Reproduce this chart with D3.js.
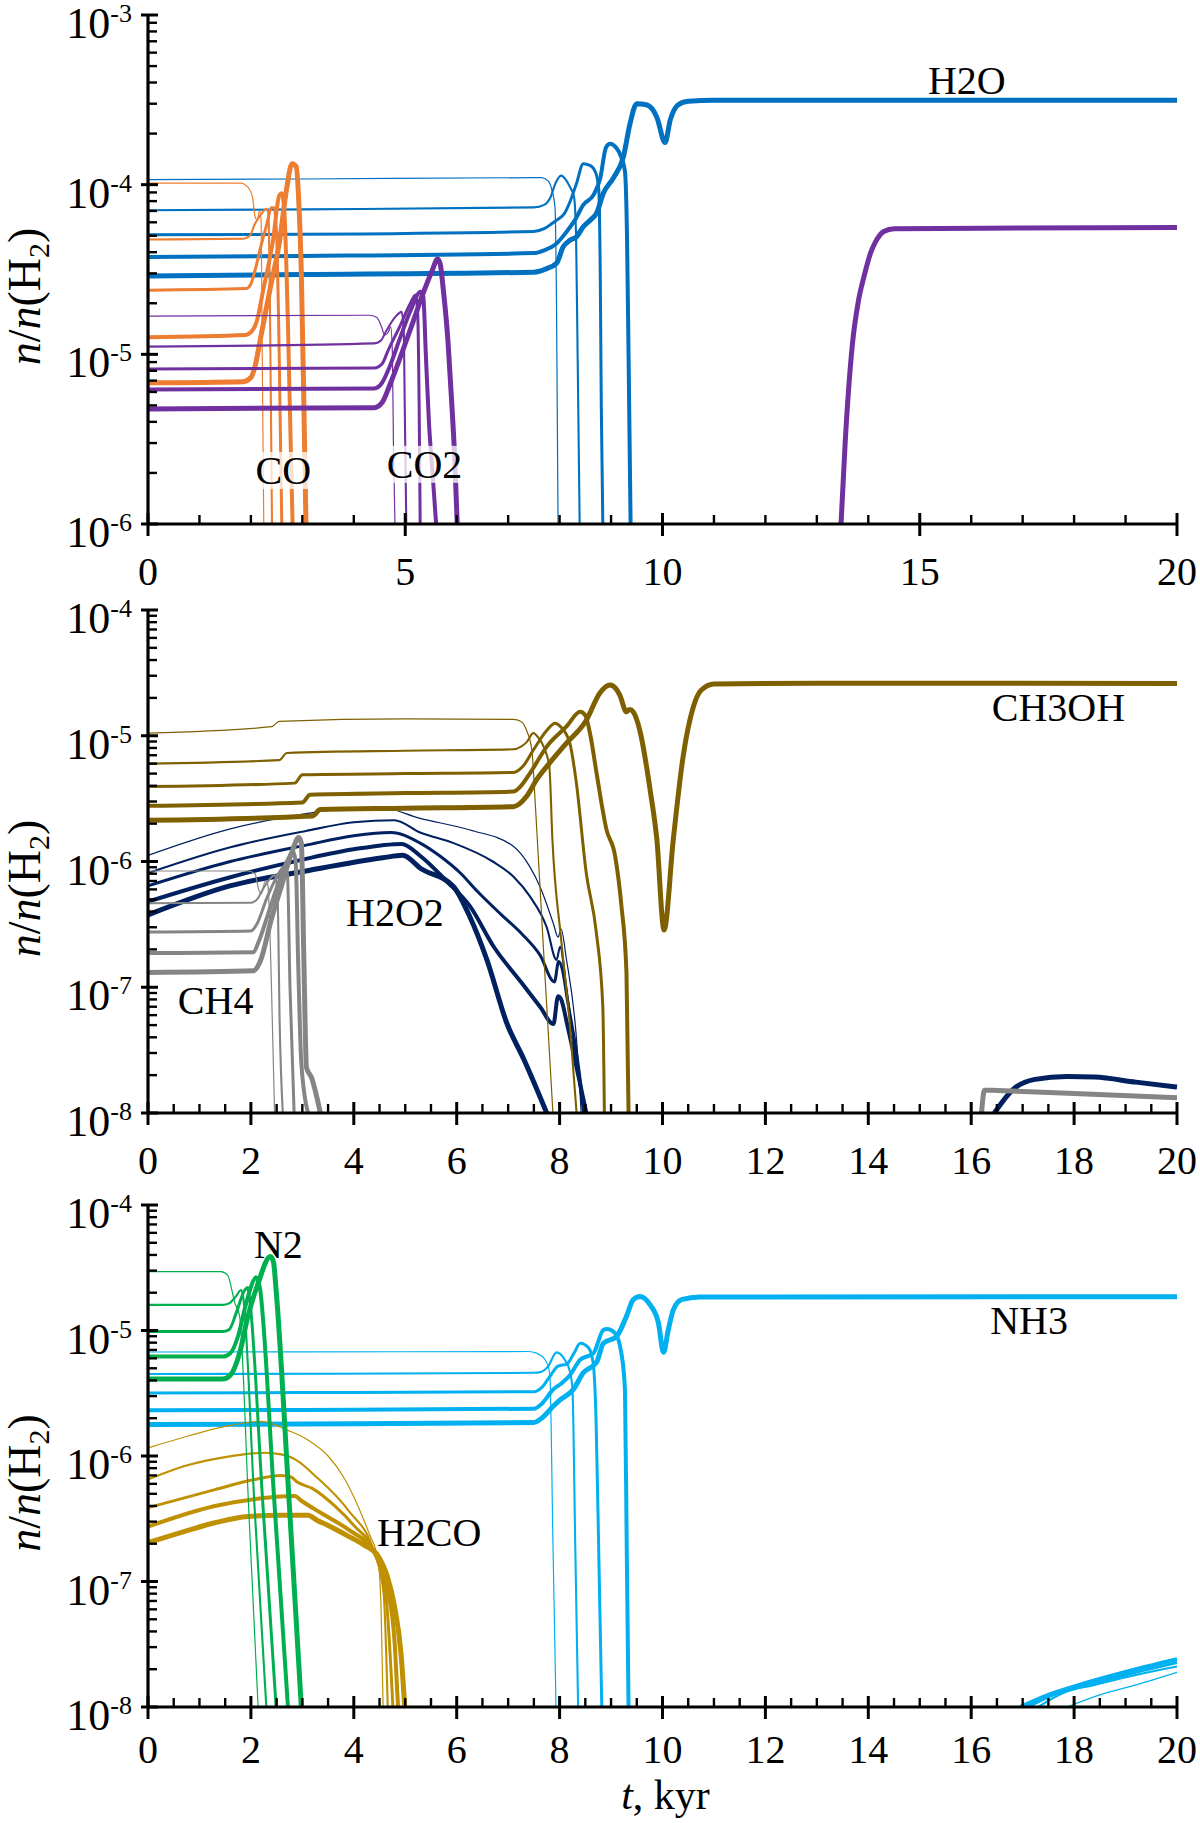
<!DOCTYPE html>
<html>
<head>
<meta charset="utf-8">
<script src="https://cdn.jsdelivr.net/npm/d3@7"></script>
<style>
  body { margin: 0; background: #fff; }
  text { font-family: "Liberation Serif", "Times New Roman", serif; fill: #000; }
</style>
</head>
<body>
<svg id="chart" width="1200" height="1823" font-family="Liberation Serif, Times New Roman, serif"></svg>
<script>
// ---- data: [t (kyr), n/n(H2)], null = line leaves the plot and comes back ----

// panel 1
const h2o = [
  [[0,1.07e-4],[3,1.08e-4],[7.5,1.1e-4],[7.65,1.1e-4],[7.78,1.05e-4],[7.85,9.3e-5],[7.91,7.4e-5],[7.94,2e-5],[7.97,1e-6]],
  [[0,7.06e-5],[3,7.15e-5],[7.5,7.35e-5],[7.7,7.6e-5],[7.82,8.4e-5],[7.92,1.02e-4],[8.03,1.13e-4],[8.12,1.07e-4],[8.2,9.7e-5],[8.28,8.5e-5],[8.32,5e-5],[8.35,1e-5],[8.39,1e-6]],
  [[0,5.07e-5],[3,5.1e-5],[7.5,5.3e-5],[7.7,5.5e-5],[7.85,5.9e-5],[7.95,6.2e-5],[8.1,6.8e-5],[8.2,7.9e-5],[8.33,1.02e-4],[8.46,1.33e-4],[8.59,1.3e-4],[8.7,1.18e-4],[8.76,9.5e-5],[8.79,3e-5],[8.81,5e-6],[8.84,1e-6]],
  [[0,3.75e-5],[3,3.8e-5],[7.5,3.95e-5],[7.7,4.1e-5],[7.94,4.5e-5],[8.14,5.3e-5],[8.3,6.2e-5],[8.46,7.6e-5],[8.66,8.7e-5],[8.79,1.09e-4],[8.9,1.65e-4],[8.98,1.74e-4],[9.1,1.65e-4],[9.2,1.45e-4],[9.27,1.2e-4],[9.31,5e-5],[9.34,1e-5],[9.38,1e-6]],
  [[0,2.9e-5],[3,2.95e-5],[7.5,3.05e-5],[7.75,3.2e-5],[7.94,3.44e-5],[8.07,4.3e-5],[8.2,4.7e-5],[8.33,4.93e-5],[8.46,5.65e-5],[8.6,6.2e-5],[8.72,6.8e-5],[8.85,8.9e-5],[9.05,1.1e-4],[9.24,1.46e-4],[9.37,2.3e-4],[9.5,3.0e-4],[9.7,2.95e-4],[9.89,2.5e-4],[10.05,1.77e-4],[10.15,2.4e-4],[10.3,2.95e-4],[10.5,3.1e-4],[11,3.14e-4],[20,3.14e-4]]
];
const co = [
  [[0,1.02e-4],[1.8,1.02e-4],[1.95,9.6e-5],[2.03,8.5e-5],[2.08,6.5e-5],[2.12,6.2e-5],[2.17,7e-5],[2.2,6e-5],[2.22,1e-5],[2.25,1e-6]],
  [[0,4.75e-5],[1.85,4.8e-5],[1.98,5e-5],[2.07,5.8e-5],[2.2,6.7e-5],[2.3,7.2e-5],[2.34,6.8e-5],[2.37,2e-5],[2.41,1e-6]],
  [[0,2.39e-5],[1.9,2.44e-5],[2.0,2.6e-5],[2.1,3.3e-5],[2.2,4.4e-5],[2.3,5.7e-5],[2.4,7.3e-5],[2.45,7.3e-5],[2.5,5e-5],[2.55,1e-5],[2.6,1e-6]],
  [[0,1.26e-5],[1.9,1.3e-5],[2.0,1.35e-5],[2.11,1.55e-5],[2.24,2.4e-5],[2.43,4.7e-5],[2.55,8.6e-5],[2.6,8.9e-5],[2.65,7e-5],[2.72,1.5e-5],[2.81,1e-6]],
  [[0,6.8e-6],[1.85,6.9e-6],[2.0,7.3e-6],[2.08,8.5e-6],[2.18,1.21e-5],[2.37,2.4e-5],[2.56,4.7e-5],[2.69,9.3e-5],[2.8,1.33e-4],[2.88,1.28e-4],[2.93,8e-5],[2.98,3e-5],[3.03,5e-6],[3.07,1e-6]]
];
const co2 = [
  [[0,1.68e-5],[4.3,1.7e-5],[4.45,1.65e-5],[4.54,1.45e-5],[4.6,1.3e-5],[4.67,1.35e-5],[4.72,1.45e-5],[4.75,1e-5],[4.77,3e-6],[4.8,1e-6]],
  [[0,1.11e-5],[4.4,1.16e-5],[4.52,1.2e-5],[4.64,1.39e-5],[4.8,1.65e-5],[4.93,1.78e-5],[4.97,1.4e-5],[4.99,5e-6],[5.02,1e-6]],
  [[0,8.2e-6],[4.4,8.3e-6],[4.55,8.8e-6],[4.67,1.06e-5],[4.89,1.45e-5],[5.1,2.0e-5],[5.2,2.24e-5],[5.24,1.8e-5],[5.27,5e-6],[5.29,1e-6]],
  [[0,6.2e-6],[4.4,6.3e-6],[4.55,6.8e-6],[4.7,8.5e-6],[4.9,1.25e-5],[5.1,1.8e-5],[5.3,2.34e-5],[5.35,2.2e-5],[5.4,1e-5],[5.46,4e-6],[5.53,2e-6],[5.6,1e-6]],
  [[0,4.77e-6],[4.4,4.85e-6],[4.55,5.2e-6],[4.7,6.6e-6],[4.95,1.05e-5],[5.15,1.55e-5],[5.35,2.3e-5],[5.52,3.1e-5],[5.63,3.65e-5],[5.68,3.4e-5],[5.74,2.4e-5],[5.83,1.2e-5],[5.9,5.4e-6],[5.96,2.5e-6],[6.01,1e-6],
   null,
   [13.47,1e-6],[13.55,3e-6],[13.69,1.14e-5],[13.8,2e-5],[13.92,2.9e-5],[14.05,4e-5],[14.14,4.6e-5],[14.3,5.3e-5],[14.5,5.5e-5],[17,5.55e-5],[20,5.6e-5]]
];

// panel 2
const ch3oh = [
  [[0,1.05e-5],[2.4,1.18e-5],[2.55,1.3e-5],[5,1.36e-5],[7.1,1.35e-5],[7.25,1.3e-5],[7.36,1.1e-5],[7.46,7.7e-6],[7.53,2.75e-6],[7.7,1.6e-7],[7.87,1e-8]],
  [[0,6e-6],[2.55,6.4e-6],[2.7,7.3e-6],[5,7.6e-6],[7.1,7.8e-6],[7.25,8.2e-6],[7.36,8.9e-6],[7.49,1.05e-5],[7.6,9.5e-6],[7.7,8e-6],[7.8,5.7e-6],[7.86,1.5e-6],[8.03,2.4e-7],[8.2,5e-8],[8.33,1e-8]],
  [[0,3.94e-6],[2.85,4.2e-6],[3.0,4.9e-6],[5,5.0e-6],[7.1,5.1e-6],[7.3,5.8e-6],[7.49,7.7e-6],[7.75,1.1e-5],[7.91,1.26e-5],[8.02,1.18e-5],[8.2,8.7e-6],[8.32,4.4e-6],[8.52,8e-7],[8.71,2.8e-7],[8.84,7e-8],[8.87,1e-8]],
  [[0,2.77e-6],[3.0,2.95e-6],[3.15,3.4e-6],[5,3.5e-6],[7.1,3.6e-6],[7.25,4e-6],[7.42,5e-6],[7.75,8.2e-6],[8.13,1.18e-5],[8.4,1.55e-5],[8.5,1.45e-5],[8.6,1e-5],[8.72,5e-6],[8.91,1.8e-6],[9.08,1.1e-6],[9.2,4.5e-7],[9.3,1.3e-7],[9.34,1e-8]],
  [[0,2.13e-6],[3.2,2.3e-6],[3.35,2.59e-6],[5,2.65e-6],[7.1,2.73e-6],[7.36,3.3e-6],[7.55,4.45e-6],[7.81,6.1e-6],[8.13,8.7e-6],[8.52,1.33e-5],[8.78,2.18e-5],[8.98,2.53e-5],[9.1,2.35e-5],[9.17,2.1e-5],[9.3,1.55e-5],[9.36,1.62e-5],[9.43,1.55e-5],[9.56,1.1e-5],[9.76,3.7e-6],[9.89,1.5e-6],[10.03,2.85e-7],[10.21,1.5e-6],[10.4,6.8e-6],[10.6,1.7e-5],[10.75,2.3e-5],[11,2.58e-5],[13,2.62e-5],[20,2.6e-5]]
];
const h2o2 = [
  [[0,1.12e-6],[1.6,1.82e-6],[3.07,2.4e-6],[3.8,2.65e-6],[4.5,2.7e-6],[5.29,2.2e-6],[6.26,1.78e-6],[7.1,1.32e-6],[7.42,9.1e-7],[7.62,6.3e-7],[7.88,3.2e-7],[7.97,2.5e-7],[8.03,2.9e-7],[8.13,1.7e-7],[8.33,3.8e-8],[8.42,1e-8]],
  [[0,8.1e-7],[1.6,1.3e-6],[3.07,1.75e-6],[4,2.05e-6],[4.79,2.13e-6],[5.29,1.7e-6],[5.94,1.4e-6],[6.7,1.0e-6],[7.1,7.6e-7],[7.42,5.3e-7],[7.75,3.0e-7],[7.94,1.65e-7],[8.01,2.1e-7],[8.13,1.0e-7],[8.33,2.5e-8],[8.46,1e-8]],
  [[0,6.4e-7],[1.6,1.0e-6],[3.07,1.35e-6],[4,1.6e-6],[4.72,1.7e-6],[5.29,1.4e-6],[5.68,1.1e-6],[6.07,8.1e-7],[6.4,5.8e-7],[6.86,3.8e-7],[7.25,2.7e-7],[7.62,1.8e-7],[7.9,1.1e-7],[7.98,1.6e-7],[8.05,1.4e-7],[8.15,8e-8],[8.33,3e-8],[8.48,1e-8]],
  [[0,4.8e-7],[1.6,7.5e-7],[3.07,1.05e-6],[4,1.25e-6],[4.93,1.38e-6],[5.3,1.1e-6],[5.8,7e-7],[6.26,4.4e-7],[6.72,2.1e-7],[7.25,1.1e-7],[7.62,7e-8],[7.88,5.1e-8],[7.97,8.5e-8],[8.03,8e-8],[8.15,5e-8],[8.33,2.3e-8],[8.52,1e-8]],
  [[0,3.76e-7],[1.59,6.4e-7],[3.07,8.4e-7],[4.56,1.07e-6],[4.95,1.12e-6],[5.3,8.8e-7],[5.94,6.3e-7],[6.26,3.6e-7],[6.59,1.64e-7],[6.98,5.1e-8],[7.3,2.7e-8],[7.75,1e-8],
   null,
   [16.45,1e-8],[16.82,1.55e-8],[17.24,1.85e-8],[17.86,1.95e-8],[18.4,1.93e-8],[19.2,1.76e-8],[20,1.61e-8]]
];
const ch4 = [
  [[0,8.4e-7],[1.95,8.4e-7],[2.08,8e-7],[2.15,6e-7],[2.2,5.5e-7],[2.28,7e-7],[2.33,6.5e-7],[2.4,1e-7],[2.46,1e-8]],
  [[0,4.65e-7],[2.0,4.7e-7],[2.12,5e-7],[2.25,6.2e-7],[2.4,7.5e-7],[2.47,7.8e-7],[2.52,5e-7],[2.56,5e-8],[2.62,1e-8]],
  [[0,2.75e-7],[2.0,2.8e-7],[2.12,3.2e-7],[2.3,5e-7],[2.5,7.5e-7],[2.66,9.2e-7],[2.71,8e-7],[2.76,1e-7],[2.84,1e-8]],
  [[0,1.87e-7],[2.05,1.9e-7],[2.15,2.3e-7],[2.35,4e-7],[2.55,7e-7],[2.75,1.1e-6],[2.82,1.2e-6],[2.87,1e-6],[2.92,1.5e-7],[2.98,2.5e-8],[3.11,1e-8]],
  [[0,1.31e-7],[2.05,1.35e-7],[2.18,1.6e-7],[2.4,3.5e-7],[2.6,6.5e-7],[2.8,1.2e-6],[2.93,1.55e-6],[2.98,1.4e-6],[3.03,1.6e-7],[3.08,2.3e-8],[3.18,1.9e-8],[3.35,1e-8],
   null,
   [16.2,1e-8],[16.26,1.52e-8],[16.5,1.51e-8],[18,1.43e-8],[20,1.32e-8]]
];

// panel 3
const n2 = [
  [[0,2.95e-5],[1.42,2.95e-5],[1.55,2.75e-5],[1.63,2.1e-5],[1.68,1.7e-5],[1.78,1.3e-5],[1.96,3.6e-7],[2.14,1e-8]],
  [[0,1.6e-5],[1.45,1.6e-5],[1.58,1.65e-5],[1.7,1.85e-5],[1.81,2.1e-5],[1.85,1.85e-5],[2.07,4e-7],[2.3,1e-8]],
  [[0,9.8e-6],[1.45,9.8e-6],[1.58,1.02e-5],[1.72,1.4e-5],[1.88,2.1e-5],[1.94,2.2e-5],[1.97,1.87e-5],[2.23,4.3e-7],[2.49,1e-8]],
  [[0,6.2e-6],[1.45,6.2e-6],[1.6,6.6e-6],[1.75,9e-6],[1.9,1.6e-5],[2.05,2.5e-5],[2.1,2.66e-5],[2.17,2.24e-5],[2.45,4.7e-7],[2.72,1e-8]],
  [[0,4.1e-6],[1.45,4.1e-6],[1.6,4.4e-6],[1.78,6.6e-6],[1.94,1.29e-5],[2.14,2.38e-5],[2.38,3.88e-5],[2.44,3.5e-5],[2.49,2.1e-5],[2.74,4.6e-7],[2.98,1e-8]]
];
const nh3 = [
  [[0,6.74e-6],[3,6.75e-6],[7.4,6.8e-6],[7.55,6.6e-6],[7.72,5.85e-6],[7.81,4.5e-6],[7.87,2.1e-7],[7.93,1e-8],
   null,
   [17.86,1e-8],[18.5,1.25e-8],[19.2,1.5e-8],[20,1.89e-8]],
  [[0,4.5e-6],[3,4.52e-6],[7.5,4.6e-6],[7.65,4.7e-6],[7.78,5.2e-6],[7.94,6.7e-6],[8.1,5.85e-6],[8.2,4.7e-6],[8.25,3.4e-6],[8.305,1.85e-7],[8.36,1e-8],
   null,
   [17.3,1e-8],[17.8,1.3e-8],[18.4,1.5e-8],[19.2,1.8e-8],[20,2.1e-8]],
  [[0,3.18e-6],[3,3.2e-6],[7.5,3.25e-6],[7.65,3.5e-6],[7.81,4.3e-6],[7.97,5.2e-6],[8.14,5.4e-6],[8.28,6.6e-6],[8.4,7.9e-6],[8.56,7.3e-6],[8.65,5.6e-6],[8.71,1.84e-6],[8.765,1.4e-7],[8.82,1e-8],
   null,
   [17.1,1e-8],[17.6,1.25e-8],[18.2,1.48e-8],[19,1.8e-8],[20,2.26e-8]],
  [[0,2.31e-6],[3,2.33e-6],[7.5,2.38e-6],[7.65,2.6e-6],[7.88,3.4e-6],[8.04,3.8e-6],[8.2,4.4e-6],[8.4,5.85e-6],[8.66,6.6e-6],[8.85,1.01e-5],[8.92,1.03e-5],[9.08,9.5e-6],[9.2,6.6e-6],[9.27,3.4e-6],[9.305,1.85e-7],[9.34,1e-8],
   null,
   [16.95,1e-8],[17.5,1.25e-8],[18.1,1.5e-8],[19,1.9e-8],[20,2.4e-8]],
  [[0,1.78e-6],[3,1.8e-6],[7.5,1.85e-6],[7.65,2.0e-6],[7.88,2.5e-6],[8.01,2.8e-6],[8.27,3.4e-6],[8.46,4.6e-6],[8.72,5.6e-6],[8.85,7.9e-6],[9.11,9e-6],[9.3,1.3e-5],[9.43,1.76e-5],[9.56,1.87e-5],[9.76,1.6e-5],[9.92,1.15e-5],[10.02,6.7e-6],[10.11,1.0e-5],[10.21,1.46e-5],[10.37,1.76e-5],[10.72,1.85e-5],[20,1.86e-5]]
];
const h2co = [
  [[0,1.16e-6],[0.8,1.45e-6],[1.5,1.72e-6],[2.2,1.89e-6],[2.72,1.6e-6],[3.1,1.35e-6],[3.5,1.0e-6],[3.8,6.8e-7],[4.08,4e-7],[4.3,2.4e-7],[4.47,1.5e-7],[4.53,6e-8],[4.57,1e-8]],
  [[0,6.5e-7],[0.8,8.5e-7],[1.5,9.8e-7],[2.27,1.06e-6],[2.59,1.03e-6],[2.9,9.2e-7],[3.24,7e-7],[3.89,3.7e-7],[4.4,1.7e-7],[4.58,8e-8],[4.66,1e-8]],
  [[0,3.87e-7],[1.3,5.4e-7],[2.0,6.4e-7],[2.59,7e-7],[2.78,6.8e-7],[2.9,6.2e-7],[3.2,5.5e-7],[3.63,4e-7],[4.0,2.8e-7],[4.4,1.7e-7],[4.62,8e-8],[4.76,1e-8]],
  [[0,2.74e-7],[1.3,4e-7],[2.2,4.6e-7],[2.85,4.8e-7],[2.98,4.4e-7],[3.37,3.5e-7],[3.89,2.6e-7],[4.4,1.7e-7],[4.66,8.6e-8],[4.8,3e-8],[4.86,1e-8]],
  [[0,2.04e-7],[0.7,2.5e-7],[1.3,2.94e-7],[1.94,3.3e-7],[2.6,3.37e-7],[3.11,3.37e-7],[3.3,3.05e-7],[3.5,2.8e-7],[3.89,2.3e-7],[4.2,1.95e-7],[4.47,1.6e-7],[4.65,1.1e-7],[4.79,6.4e-8],[4.92,2.6e-8],[4.99,1e-8]]
];

const xTicksMajor = [[0,5,10,15,20],[0,2,4,6,8,10,12,14,16,18,20],[0,2,4,6,8,10,12,14,16,18,20]];
const xMinorStep = [1, 0.5, 0.5];

// ---- layout ----
const svg = d3.select("#chart");
const x = d3.scaleLinear().domain([0, 20]).range([148, 1177]);
const lineWidths = [1.2, 2.1, 3.0, 4.0, 5.0];
const serif = "Liberation Serif, Times New Roman, serif";

const panels = [
  {top: 15, bottom: 524, domain: [1e-6, 1e-3], labelGap: 61},
  {top: 610, bottom: 1113, domain: [1e-8, 1e-4], labelGap: 61},
  {top: 1205, bottom: 1707, domain: [1e-8, 1e-4], labelGap: 56}
];
panels.forEach((p, i) => {
  p.y = d3.scaleLog().domain(p.domain).range([p.bottom, p.top]);
  svg.append("clipPath").attr("id", "clip" + i)
    .append("rect")
    .attr("x", x(0)).attr("y", p.top - 10)
    .attr("width", x(20) - x(0) + 3).attr("height", p.bottom - p.top + 10);
  p.g = svg.append("g").attr("clip-path", `url(#clip${i})`);
});

// draw order matters: later species sit on top
const series = [
  {panel: 0, color: "#0070C0", lines: h2o},
  {panel: 0, color: "#ED7D31", lines: co},
  {panel: 0, color: "#7030A0", lines: co2},
  {panel: 1, color: "#002060", lines: h2o2},
  {panel: 1, color: "#7F6000", lines: ch3oh},
  {panel: 1, color: "#858585", lines: ch4},
  {panel: 2, color: "#00B0F0", lines: nh3},
  {panel: 2, color: "#BF9000", lines: h2co},
  {panel: 2, color: "#00B050", lines: n2}
];

series.forEach(s => {
  const p = panels[s.panel];
  const line = d3.line()
    .defined(d => d !== null)
    .x(d => x(d[0]))
    .y(d => p.y(d[1]))
    .curve(d3.curveMonotoneX);
  p.g.append("g").selectAll("path")
    .data(s.lines)
    .join("path")
    .attr("d", line)
    .attr("fill", "none")
    .attr("stroke", s.color)
    .attr("stroke-width", (d, i) => lineWidths[i])
    .attr("stroke-linejoin", "round");
});

// species labels (position in data coords)
const labels = [
  {panel: 0, text: "H2O", t: 15.16, v: 3.42e-4},
  {panel: 0, text: "CO", t: 2.09, v: 1.72e-6, box: true},
  {panel: 0, text: "CO2", t: 4.64, v: 1.87e-6, box: true},
  {panel: 1, text: "CH3OH", t: 16.4, v: 1.3e-5},
  {panel: 1, text: "H2O2", t: 3.85, v: 3.05e-7},
  {panel: 1, text: "CH4", t: 0.58, v: 6.08e-8},
  {panel: 2, text: "N2", t: 2.06, v: 3.77e-5},
  {panel: 2, text: "H2CO", t: 4.45, v: 1.92e-7},
  {panel: 2, text: "NH3", t: 16.37, v: 9.4e-6}
];
labels.forEach(l => {
  const p = panels[l.panel];
  const g = svg.append("g");
  const txt = g.append("text")
    .attr("x", x(l.t)).attr("y", p.y(l.v))
    .attr("font-family", serif)
    .attr("font-size", 40)
    .text(l.text);
  if (l.box) {
    const b = txt.node().getBBox();
    g.insert("rect", "text")
      .attr("x", b.x - 2).attr("y", b.y + 4)
      .attr("width", b.width + 4).attr("height", b.height - 8)
      .attr("fill", "#fff").attr("opacity", 0.75);
  }
});

// axes
panels.forEach((p, i) => {
  const ax = svg.append("g").attr("stroke", "#000");
  const x0 = x(0);
  ax.append("line")
    .attr("x1", x0).attr("x2", x0).attr("y1", p.top).attr("y2", p.bottom)
    .attr("stroke-width", 3.2);
  ax.append("line")
    .attr("x1", x0).attr("x2", x(20)).attr("y1", p.bottom).attr("y2", p.bottom)
    .attr("stroke-width", 3.2);

  // y ticks
  p.y.ticks().forEach(v => {
    const e = Math.log10(v);
    const major = Math.abs(e - Math.round(e)) < 1e-9;
    ax.append("line")
      .attr("x1", major ? x0 - 7 : x0).attr("x2", x0 + (major ? 10 : 9))
      .attr("y1", p.y(v)).attr("y2", p.y(v))
      .attr("stroke-width", major ? 3 : 2.4);
    if (major) {
      const t = svg.append("text")
        .attr("x", 132).attr("y", p.y(v) + 23)
        .attr("text-anchor", "end")
        .attr("font-family", serif)
        .attr("font-size", 44)
        .text("10");
      t.append("tspan").attr("dy", -16).attr("font-size", 26).text("-" + Math.abs(Math.round(e)));
    }
  });

  // x ticks
  const majors = xTicksMajor[i];
  d3.range(0, 20 + 1e-9, xMinorStep[i]).forEach(t => {
    const major = majors.some(m => Math.abs(m - t) < 1e-9);
    ax.append("line")
      .attr("x1", x(t)).attr("x2", x(t))
      .attr("y1", p.bottom - (major ? 11 : 9)).attr("y2", p.bottom + (major ? 12 : 0))
      .attr("stroke-width", major ? 3 : 2.4);
  });
  majors.forEach(t => {
    svg.append("text")
      .attr("x", x(t)).attr("y", p.bottom + p.labelGap)
      .attr("text-anchor", "middle")
      .attr("font-family", serif)
      .attr("font-size", 40)
      .text(t);
  });

  // y label n/n(H2)
  const cy = (p.top + p.bottom) / 2 + 27;
  const yl = svg.append("text")
    .attr("transform", `translate(40,${cy}) rotate(-90)`)
    .attr("text-anchor", "middle")
    .attr("font-family", serif)
    .attr("font-size", 46);
  yl.append("tspan").attr("font-style", "italic").text("n");
  yl.append("tspan").text("/");
  yl.append("tspan").attr("font-style", "italic").text("n");
  yl.append("tspan").text("(H");
  yl.append("tspan").attr("dy", 9).attr("font-size", 30).text("2");
  yl.append("tspan").attr("dy", -9).text(")");
});

// x axis title
const xt = svg.append("text")
  .attr("x", x(10) + 3).attr("y", 1809)
  .attr("text-anchor", "middle")
  .attr("font-family", serif)
  .attr("font-size", 42);
xt.append("tspan").attr("font-style", "italic").text("t");
xt.append("tspan").text(", kyr");
</script>
</body>
</html>
